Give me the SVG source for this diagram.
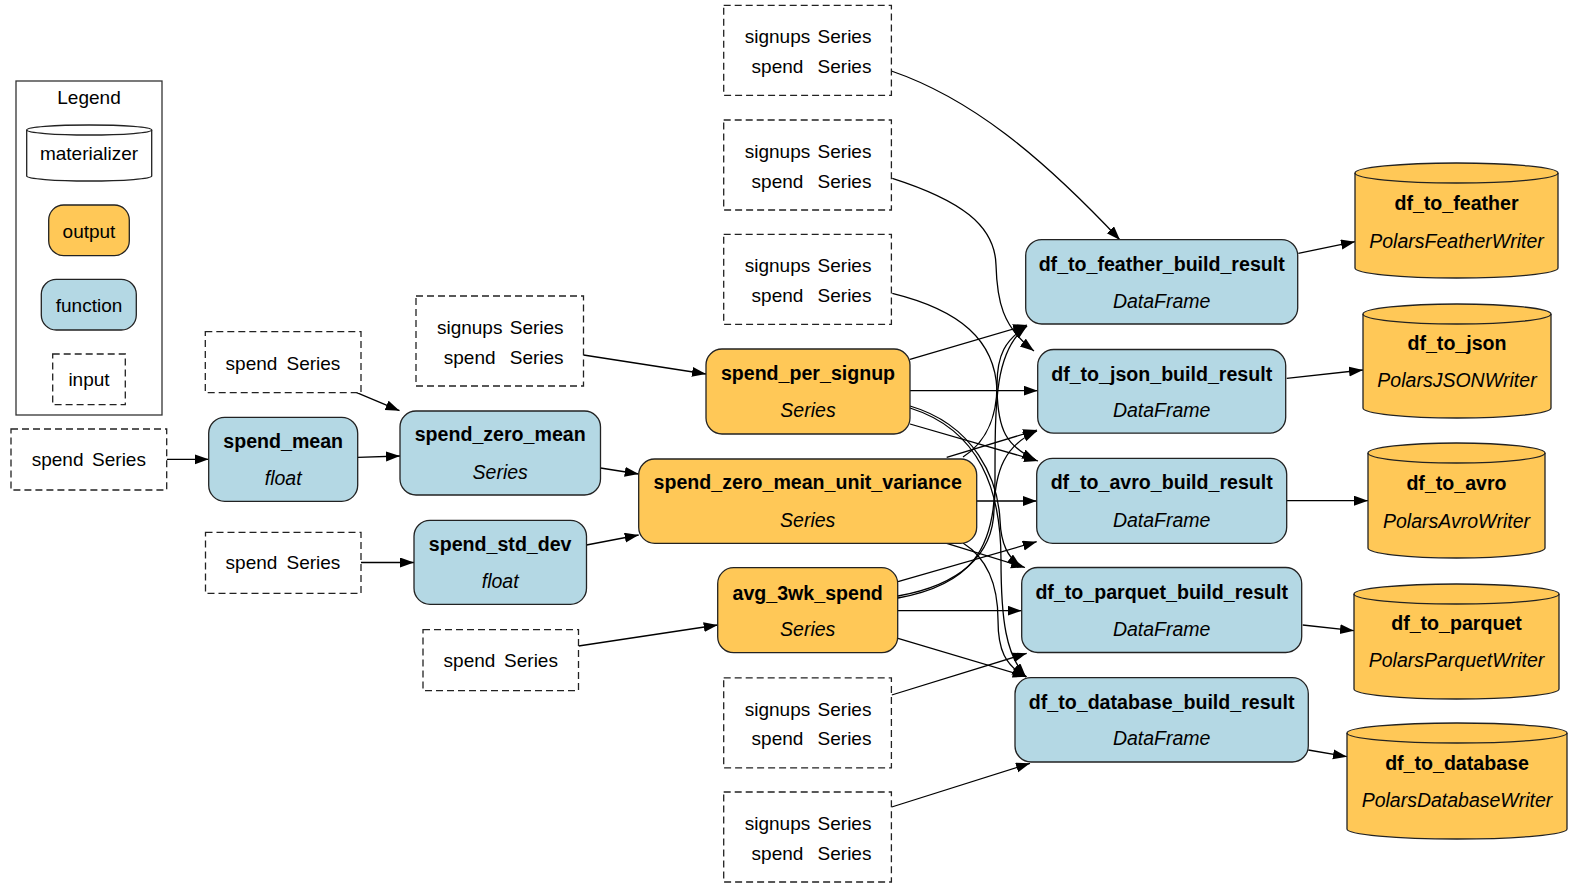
<svg xmlns="http://www.w3.org/2000/svg" width="1572" height="887" viewBox="0 0 1572 887">
<style>
text{font-family:"Liberation Sans",Arial,sans-serif;font-size:19px;fill:#000;text-anchor:middle}
.b{font-weight:bold;font-size:19.6px}
.i{font-style:italic;font-size:19.5px}
.fn{fill:#b4d8e4;stroke:#222;stroke-width:1.3}
.out{fill:#ffc857;stroke:#222;stroke-width:1.3}
.inp{fill:#fff;stroke:#222;stroke-width:1.3;stroke-dasharray:7,4}
.mat{fill:#ffc857;stroke:#222;stroke-width:1.3}
.e{fill:none;stroke:#000;stroke-width:1.3;marker-end:url(#ah)}
</style>
<defs>
<marker id="ah" markerUnits="userSpaceOnUse" markerWidth="15" markerHeight="11" refX="14" refY="5" orient="auto"><path d="M0,0 L14,5 L0,10 Z" fill="#000"/></marker>
</defs>
<rect width="1572" height="887" fill="#fff"/>

<g id="legend">
<rect x="16" y="81" width="146" height="334" fill="#fff" stroke="#333" stroke-width="1.3"/>
<text x="89" y="104">Legend</text>
<path d="M26.7,130 A62.5,5 0 0 1 151.7,130 L151.7,176 A62.5,5 0 0 1 26.7,176 Z" fill="#fff" stroke="#222" stroke-width="1.3"/>
<path d="M26.7,130 A62.5,5 0 0 0 151.7,130" fill="none" stroke="#222" stroke-width="1.3"/>
<text x="89" y="160">materializer</text>
<rect class="out" x="48.7" y="205" width="80.6" height="50.7" rx="15"/>
<text x="89" y="238">output</text>
<rect class="fn" x="41.3" y="279.3" width="95" height="50.7" rx="15"/>
<text x="89" y="312">function</text>
<rect class="inp" x="52.7" y="354" width="72.6" height="50.7"/>
<text x="89" y="386">input</text>
</g>

<g id="connectors">
<path class="e" d="M166.7,459.3 L208.7,459.3"/>
<path class="e" d="M357.7,457.3 L400,456"/>
<path class="e" d="M356.7,392.7 L399.5,410.7"/>
<path class="e" d="M361,562.5 L414,562.5"/>
<path class="e" d="M583.5,355 L706,374"/>
<path class="e" d="M600.5,468 L638.7,474"/>
<path class="e" d="M586.5,545 L638.7,535"/>
<path class="e" d="M578.5,646 L717.7,625"/>

<path class="e" d="M910,359.3 L1027,325"/>
<path class="e" d="M910,390.7 L1037.7,390.7"/>
<path class="e" d="M910,424 L1038,461"/>
<path class="e" d="M910,406 C975,425 998,480 1000,520 C1001,545 1008,557 1021,567"/>
<path class="e" d="M910,408 C980,430 1001,490 1001,560 C1001,620 1006,655 1026,677"/>

<path class="e" d="M963,457 C990,440 997,410 997,385 C997,355 1005,340 1027,326"/>
<path class="e" d="M946.7,457.3 L1037,430"/>
<path class="e" d="M976.7,501 L1036.7,501"/>
<path class="e" d="M946.7,543.3 L1025,567.5"/>
<path class="e" d="M963,543 C990,560 998,590 998,620 C998,650 1005,665 1026,677"/>

<path class="e" d="M898,598 C970,585 995,550 995,480 C995,400 995,350 1027,326"/>
<path class="e" d="M898,596 C960,585 993,555 994,510 C995,470 1005,445 1037,431"/>
<path class="e" d="M898,581.7 L1036.7,541.7"/>
<path class="e" d="M898,610.7 L1021.7,610.7"/>
<path class="e" d="M898,638.3 L1026.7,676.7"/>

<path class="e" d="M891.4,71 C970,98 1040,155 1120,240"/>
<path class="e" d="M892.3,178.3 C960,200 995,225 996,265 C997,300 1002,327 1034,351"/>
<path class="e" d="M892.3,293.3 C960,310 995,340 997,390 C998,430 1006,446 1036,460"/>
<path class="e" d="M891.7,695 L1026.7,653.3"/>
<path class="e" d="M891.7,807 L1030,763.3"/>

<path class="e" d="M1298.3,253.3 L1355,241.7"/>
<path class="e" d="M1286.7,378.3 L1363,370"/>
<path class="e" d="M1286.7,500.7 L1368,500.7"/>
<path class="e" d="M1302.7,625 L1354,630.7"/>
<path class="e" d="M1308.3,750 L1347,756.7"/>
</g>

<g id="spend_input_a"><rect class="inp" x="11" y="429" width="155.7" height="61"/><text y="466"><tspan x="57.6">spend</tspan><tspan x="119">Series</tspan></text></g>
<g id="spend_input_b"><rect class="inp" x="205.3" y="331.7" width="155.7" height="61"/><text y="369.5"><tspan x="251.5">spend</tspan><tspan x="313.4">Series</tspan></text></g>
<g id="spend_input_c"><rect class="inp" x="205.5" y="532.4" width="155.5" height="61"/><text y="569"><tspan x="251.5">spend</tspan><tspan x="313.4">Series</tspan></text></g>
<g id="spend_input_d"><rect class="inp" x="423" y="629.6" width="155.5" height="61"/><text y="666.5"><tspan x="469.5">spend</tspan><tspan x="531">Series</tspan></text></g>

<g id="signups_spend_left"><rect class="inp" x="416" y="296" width="167.5" height="90"/>
<text y="334"><tspan x="469.7">signups</tspan><tspan x="536.7">Series</tspan></text>
<text y="363.5"><tspan x="469.7">spend</tspan><tspan x="536.7">Series</tspan></text></g>

<g id="signups_spend_1"><rect class="inp" x="723.7" y="5.3" width="167.7" height="90"/>
<text y="43.3"><tspan x="777.5">signups</tspan><tspan x="844.5">Series</tspan></text>
<text y="72.8"><tspan x="777.5">spend</tspan><tspan x="844.5">Series</tspan></text></g>
<g id="signups_spend_2"><rect class="inp" x="723.7" y="120" width="167.7" height="90"/>
<text y="158"><tspan x="777.5">signups</tspan><tspan x="844.5">Series</tspan></text>
<text y="187.5"><tspan x="777.5">spend</tspan><tspan x="844.5">Series</tspan></text></g>
<g id="signups_spend_3"><rect class="inp" x="723.7" y="234.3" width="167.7" height="90"/>
<text y="272.3"><tspan x="777.5">signups</tspan><tspan x="844.5">Series</tspan></text>
<text y="301.8"><tspan x="777.5">spend</tspan><tspan x="844.5">Series</tspan></text></g>
<g id="signups_spend_4"><rect class="inp" x="723.7" y="677.8" width="167.7" height="90"/>
<text y="715.8"><tspan x="777.5">signups</tspan><tspan x="844.5">Series</tspan></text>
<text y="745.3"><tspan x="777.5">spend</tspan><tspan x="844.5">Series</tspan></text></g>
<g id="signups_spend_5"><rect class="inp" x="723.7" y="792" width="167.7" height="90"/>
<text y="830"><tspan x="777.5">signups</tspan><tspan x="844.5">Series</tspan></text>
<text y="859.5"><tspan x="777.5">spend</tspan><tspan x="844.5">Series</tspan></text></g>

<g id="spend_mean"><rect class="fn" x="208.7" y="417.3" width="149" height="84" rx="16"/><text class="b" x="283.2" y="448">spend_mean</text><text class="i" x="283.2" y="485">float</text></g>
<g id="spend_zero_mean"><rect class="fn" x="400" y="411" width="200.5" height="84" rx="16"/><text class="b" x="500.2" y="441">spend_zero_mean</text><text class="i" x="500.2" y="478.5">Series</text></g>
<g id="spend_std_dev"><rect class="fn" x="414" y="520.3" width="172.5" height="84" rx="16"/><text class="b" x="500.2" y="551">spend_std_dev</text><text class="i" x="500.2" y="588">float</text></g>

<g id="spend_per_signup"><rect class="out" x="706" y="349" width="204" height="85" rx="16"/><text class="b" x="808" y="380">spend_per_signup</text><text class="i" x="808" y="417">Series</text></g>
<g id="spend_zero_mean_unit_variance"><rect class="out" x="638.7" y="459" width="338" height="84.3" rx="16"/><text class="b" x="807.7" y="489">spend_zero_mean_unit_variance</text><text class="i" x="807.7" y="527">Series</text></g>
<g id="avg_3wk_spend"><rect class="out" x="717.7" y="567.7" width="180" height="85" rx="16"/><text class="b" x="807.7" y="599.5">avg_3wk_spend</text><text class="i" x="807.7" y="636">Series</text></g>

<g id="df_to_feather_build_result"><rect class="fn" x="1025.7" y="239.6" width="272" height="84.4" rx="16"/><text class="b" x="1161.7" y="271">df_to_feather_build_result</text><text class="i" x="1161.7" y="308">DataFrame</text></g>
<g id="df_to_json_build_result"><rect class="fn" x="1037.7" y="349.5" width="248" height="83.7" rx="16"/><text class="b" x="1161.7" y="380.5">df_to_json_build_result</text><text class="i" x="1161.7" y="417">DataFrame</text></g>
<g id="df_to_avro_build_result"><rect class="fn" x="1036.7" y="458.3" width="250" height="85" rx="16"/><text class="b" x="1161.7" y="489">df_to_avro_build_result</text><text class="i" x="1161.7" y="527">DataFrame</text></g>
<g id="df_to_parquet_build_result"><rect class="fn" x="1021.7" y="567.5" width="280" height="85" rx="16"/><text class="b" x="1161.7" y="599">df_to_parquet_build_result</text><text class="i" x="1161.7" y="636">DataFrame</text></g>
<g id="df_to_database_build_result"><rect class="fn" x="1015" y="677.7" width="293.3" height="84.3" rx="16"/><text class="b" x="1161.7" y="708.5">df_to_database_build_result</text><text class="i" x="1161.7" y="745">DataFrame</text></g>

<g id="df_to_feather"><path class="mat" d="M1355,173 A101.5,10 0 0 1 1558,173 L1558,268 A101.5,10 0 0 1 1355,268 Z"/><path d="M1355,173 A101.5,10 0 0 0 1558,173" fill="none" stroke="#222" stroke-width="1.3"/><text class="b" x="1456.5" y="210">df_to_feather</text><text class="i" x="1456.5" y="248">PolarsFeatherWriter</text></g>
<g id="df_to_json"><path class="mat" d="M1363,314 A94,10 0 0 1 1551,314 L1551,408 A94,10 0 0 1 1363,408 Z"/><path d="M1363,314 A94,10 0 0 0 1551,314" fill="none" stroke="#222" stroke-width="1.3"/><text class="b" x="1457" y="350">df_to_json</text><text class="i" x="1457" y="387">PolarsJSONWriter</text></g>
<g id="df_to_avro"><path class="mat" d="M1368,453 A88.5,10 0 0 1 1545,453 L1545,548 A88.5,10 0 0 1 1368,548 Z"/><path d="M1368,453 A88.5,10 0 0 0 1545,453" fill="none" stroke="#222" stroke-width="1.3"/><text class="b" x="1456.5" y="490">df_to_avro</text><text class="i" x="1456.5" y="528">PolarsAvroWriter</text></g>
<g id="df_to_parquet"><path class="mat" d="M1354,594 A102.5,10 0 0 1 1559,594 L1559,689 A102.5,10 0 0 1 1354,689 Z"/><path d="M1354,594 A102.5,10 0 0 0 1559,594" fill="none" stroke="#222" stroke-width="1.3"/><text class="b" x="1456.5" y="630">df_to_parquet</text><text class="i" x="1456.5" y="667">PolarsParquetWriter</text></g>
<g id="df_to_database"><path class="mat" d="M1347,733 A110,10 0 0 1 1567,733 L1567,829 A110,10 0 0 1 1347,829 Z"/><path d="M1347,733 A110,10 0 0 0 1567,733" fill="none" stroke="#222" stroke-width="1.3"/><text class="b" x="1457" y="770">df_to_database</text><text class="i" x="1457" y="807">PolarsDatabaseWriter</text></g>
</svg>
